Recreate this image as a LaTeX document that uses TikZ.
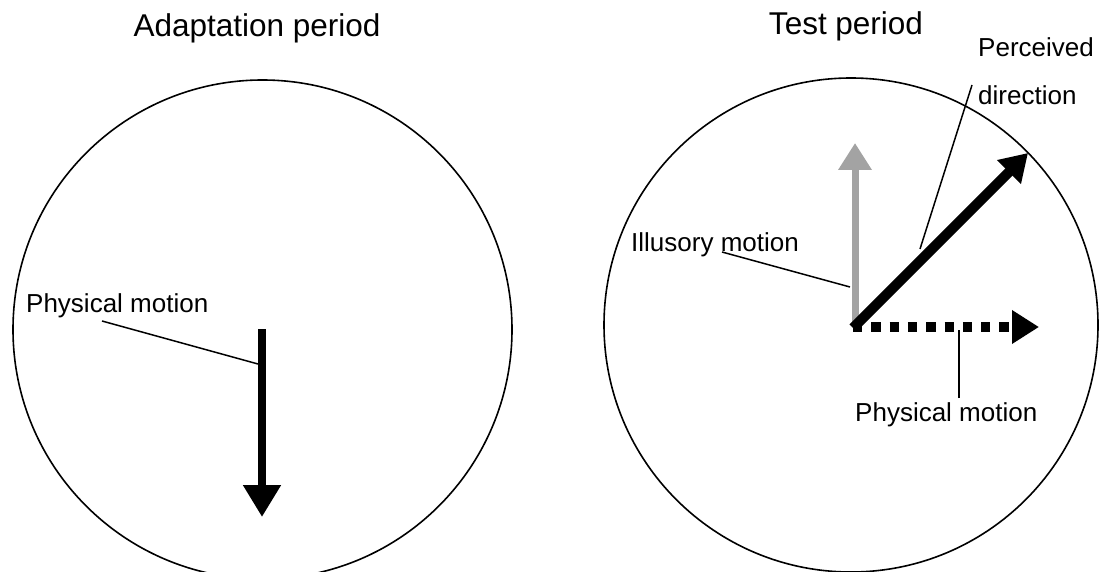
\documentclass[tikz,border=0pt]{standalone}
\usepackage{fontspec}
\setmainfont{Liberation Sans}
\usepackage{tikz}
\usetikzlibrary{arrows.meta, positioning}
\definecolor{illgray}{HTML}{A3A3A3}

\begin{document}
\begin{tikzpicture}[
    x=1pt, y=-1pt,
    ring/.style={draw=black, line width=1.6pt},
    leader/.style={draw=black, line width=1.5pt},
    ttl/.style={font=\fontsize{31.5}{36}\selectfont, inner sep=0pt, anchor=base},
    lbl/.style={font=\fontsize{26}{30}\selectfont, inner sep=0pt, anchor=base west},
    motion/.style={-{Triangle[length=27pt, width=32pt]}}
]
\useasboundingbox (0,0) rectangle (1099,572);

% Left panel
\node[ttl] (adapt) at (257, 37) {Adaptation period};
\draw[ring] (262.5, 329.5) circle[radius=249.5pt];
\node[lbl] (physL) at (26, 312) {Physical motion};

\coordinate (oL) at (262, 329);
\coordinate (tipL) at (262, 517);
\coordinate (legL) at (102, 321);
\coordinate (hitL) at (258, 364);

\draw[motion, line width=8.5pt, -{Triangle[length=32pt, width=36pt]}] (oL) -- (tipL);
\draw[leader] (legL) -- (hitL);

% Right panel
\node[ttl] (test) at (846, 35) {Test period};
\draw[ring] (851, 325) circle[radius=247pt];
\node[lbl] (perc) at (978, 57) {Perceived};
\node[lbl] (dirn) at (978, 105) {direction};
\node[lbl] (illus) at (631, 251) {Illusory motion};
\node[lbl] (physR) at (855, 421) {Physical motion};

\coordinate (oR) at (855, 327);
\coordinate (tipUp) at (855, 143);
\coordinate (tipDiag) at (1028, 153);
\coordinate (tipRight) at (1039, 327);

\coordinate (legPerc) at (972, 85);
\coordinate (hitPerc) at (920, 249);
\coordinate (legIll) at (722, 252);
\coordinate (hitIll) at (850, 287);
\coordinate (legPhys) at (959, 398);
\coordinate (hitPhys) at (959, 330);

\draw[motion, draw=illgray, fill=illgray, line width=7pt] (oR) -- (tipUp);
\draw[motion, line width=10pt] ([xshift=-2pt, yshift=-1pt]oR) -- (tipDiag);
\draw[motion, line width=9.3pt, dash pattern=on 9.3pt off 9pt] ([xshift=-2pt]oR) -- (tipRight);

\draw[leader] (legPerc) -- (hitPerc);
\draw[leader] (legIll) -- (hitIll);
\draw[leader] (legPhys) -- (hitPhys);
\end{tikzpicture}
\end{document}
